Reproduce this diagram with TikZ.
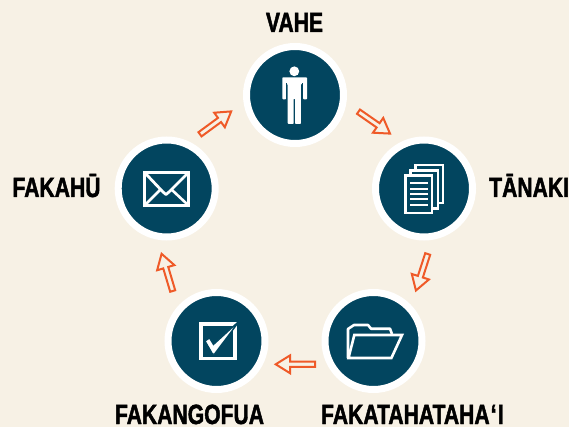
\documentclass[tikz,border=0pt]{standalone}
\usepackage{fontspec}
\usetikzlibrary{calc}
\newfontfamily\lab{Liberation Sans}[FakeStretch=0.76,FakeBold=1.6]
\definecolor{bgc}{HTML}{F7F1E5}
\definecolor{navy}{HTML}{02455F}
\definecolor{flow}{HTML}{EF5A28}
\tikzset{
  stage/.style={circle,fill=navy,draw=white,line width=7pt,minimum size=97pt,inner sep=0pt},
  stagelabel/.style={font=\lab\bfseries\fontsize{27.8}{27.8}\selectfont,text=black,inner sep=0pt},
  flowarrow/.style={draw=flow,line width=2pt,fill=none,miter limit=10},
  iconline/.style={draw=white,line width=2.6pt,fill=none},
  sheet/.style={draw=white,line width=2.7pt,fill=navy}
}
\newcommand{\hollowarrow}[2]{%
  \coordinate (hb) at ($(#2)!14.5pt!(#1)$);
  \draw[flowarrow]
    ($(#1)!2.6pt!90:(#2)$) -- ($(hb)!2.6pt!90:(#2)$) -- ($(hb)!9pt!90:(#2)$) -- (#2)
    -- ($(hb)!9pt!-90:(#2)$) -- ($(hb)!2.6pt!-90:(#2)$) -- ($(#1)!2.6pt!-90:(#2)$) -- cycle;
}
\begin{document}
\begin{tikzpicture}[x=1pt,y=-1pt]
\fill[bgc] (0,0) rectangle (569,427);
\useasboundingbox (0,0) rectangle (569,427);
% stages
\node[stage] (vahe) at (295,95) {};
\node[stage] (tanaki) at (424,188.5) {};
\node[stage] (faka) at (373.5,341) {};
\node[stage] (ngofua) at (216.5,341) {};
\node[stage] (fakahu) at (166.7,188.5) {};
% labels
\node[stagelabel,anchor=base] (lvahe) at (294.5,32) {VAHE};
\node[stagelabel,anchor=base west] (ltanaki) at (489,197) {TĀNAKI};
\node[stagelabel,anchor=base] (lfaka) at (412.5,424) {FAKATAHATAHA\kern1pt‘\kern1.5pt I};
\node[stagelabel,anchor=base] (lngofua) at (189.5,424) {FAKANGOFUA};
\node[stagelabel,anchor=base] (lfakahu) at (56.5,197) {FAKAHŪ};
% arrows
\coordinate (a1) at (358.5,111.7); \coordinate (b1) at (390,133.6);
\coordinate (a2) at (427.7,254); \coordinate (b2) at (415.9,290.5);
\coordinate (a3) at (315,364.3); \coordinate (b3) at (275.7,364.3);
\coordinate (a4) at (172.7,291); \coordinate (b4) at (161.6,253.8);
\coordinate (a5) at (200,134.3); \coordinate (b5) at (231.2,111.4);
\hollowarrow{a1}{b1}
\hollowarrow{a2}{b2}
\hollowarrow{a3}{b3}
\hollowarrow{a4}{b4}
\hollowarrow{a5}{b5}
% person
\fill[white] (294.3,71.3) circle (4.9);
\fill[white,rounded corners=.8pt] (282.3,99.3) -- (282.3,77.3) -- (307,77.3) -- (307,99.3) -- (303,99.3) -- (303,84)
  -- (300.9,84) -- (300.9,124) -- (295,124) -- (295,98.5) -- (293.6,98.5) -- (293.6,124) -- (287.7,124) -- (287.7,84) -- (286,84) -- (286,99.3) -- cycle;
\draw[navy,line width=.8pt] (286.8,83.5) -- (286.8,99.5);
\draw[navy,line width=.8pt] (302,83.5) -- (302,99.5);
% documents
\draw[sheet] (415.3,165) rectangle (443,203);
\draw[sheet] (410.3,170.2) rectangle (438,208.2);
\draw[sheet] (405.3,175.3) rectangle (432,213);
\foreach \yy in {183.3,188.7,194,199.3,204.7}
  \draw[white,line width=2.2pt] (410,\yy) -- (428.3,\yy);
% folder
\draw[iconline,line join=round]
  (348,358) -- (348,329) -- (354,325) -- (368,325) -- (371,328.7) -- (390,328.7) -- (392,334);
\draw[iconline,line join=miter]
  (354.3,335) -- (402,335) -- (391.4,358) -- (348.5,358) -- cycle;
% check box
\draw[white,line width=3.6pt] (200.8,324.1) rectangle (234.9,358.5);
\draw[navy,fill=white,line width=1.3pt,line join=miter]
  (205,341) -- (209.5,338) -- (213.5,344.5) -- (239.8,320.5) -- (214.5,354) -- (212.5,354) -- cycle;
% envelope
\draw[white,line width=2.8pt] (144.7,172.7) rectangle (188.6,205.3);
\draw[white,line width=2.8pt,line join=round] (146,174) -- (163,192) -- (166,194.5) -- (169,192) -- (187,174);
\draw[white,line width=2.6pt] (146,204) -- (160,190);
\draw[white,line width=2.6pt] (187,204) -- (172,190);
\end{tikzpicture}
\end{document}
